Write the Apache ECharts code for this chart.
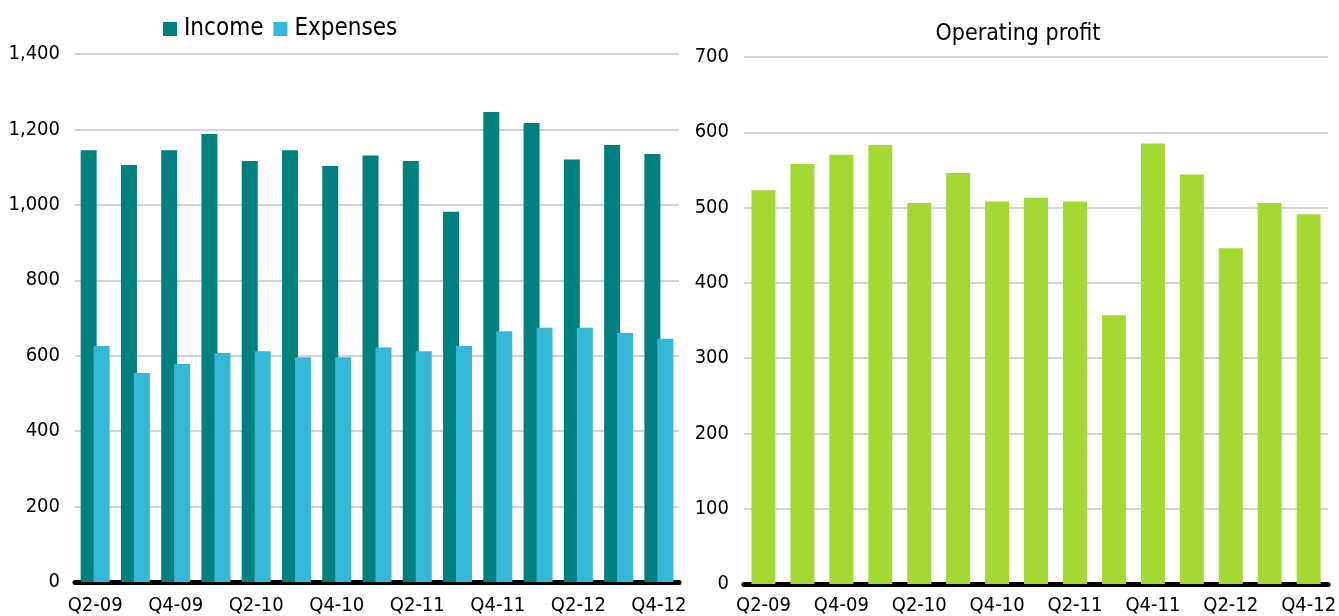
<!DOCTYPE html>
<html>
<head>
<meta charset="utf-8">
<script src="https://cdn.jsdelivr.net/npm/echarts@6/dist/echarts.min.js"></script>
<style>
  html, body { margin: 0; padding: 0; background: #ffffff; }
  #chart { width: 1339px; height: 616px; }
</style>
</head>
<body>
<div id="chart"></div>
<script>
// Quarterly figures, Q2-09 .. Q4-12
const quarters = ['Q2-09', 'Q3-09', 'Q4-09', 'Q1-10', 'Q2-10', 'Q3-10', 'Q4-10', 'Q1-11',
                  'Q2-11', 'Q3-11', 'Q4-11', 'Q1-12', 'Q2-12', 'Q3-12', 'Q4-12'];
const income = [1145, 1106, 1145, 1188, 1116, 1145, 1103, 1131, 1116, 982, 1246, 1217, 1120, 1159, 1135];
const expenses = [626, 554, 578, 607, 612, 596, 596, 622, 612, 626, 665, 674, 674, 660, 645];
const operatingProfit = [523, 558, 570, 583, 506, 546, 508, 513, 508, 357, 585, 544, 446, 506, 491];

const FONT = '"Liberation Sans Narrow", "DejaVu Sans Condensed", sans-serif';
const C_INCOME = '#00807F';
const C_EXPENSES = '#35B8D7';
const C_PROFIT = '#A5D833';

const chart = echarts.init(document.getElementById('chart'), null, { renderer: 'canvas' });

function xAxisFor(gridIndex, margin) {
  return {
    type: 'category',
    gridIndex: gridIndex,
    data: quarters,
    axisLine: { show: true, lineStyle: { color: '#000', width: 5, cap: 'round' } },
    axisTick: { show: false },
    axisLabel: { interval: 1, color: '#000', fontFamily: FONT, fontSize: 20, margin: margin }
  };
}

function yAxisFor(gridIndex, max, interval, fmt) {
  return {
    type: 'value',
    gridIndex: gridIndex,
    min: 0, max: max, interval: interval,
    axisLine: { show: false },
    axisTick: { show: false },
    splitLine: { show: true, lineStyle: { color: '#c4c4c4', width: 1.5 } },
    axisLabel: { color: '#000', fontFamily: FONT, fontSize: 20, margin: 15, formatter: fmt }
  };
}

chart.setOption({
  animation: false,
  backgroundColor: '#ffffff',
  title: {
    text: 'Operating profit',
    left: 1013, top: 18, textAlign: 'center',
    textStyle: { fontFamily: FONT, fontSize: 23, fontWeight: 'normal', color: '#000' }
  },
  legend: {
    left: 158, top: 12,
    icon: 'rect', itemWidth: 14, itemHeight: 14, itemGap: 10,
    textStyle: { fontFamily: FONT, fontSize: 24, color: '#000', padding: [0, 0, 0, 2] },
    data: ['Income', 'Expenses']
  },
  grid: [
    { left: 75, right: 660, top: 54, bottom: 34 },
    { left: 744, right: 7, top: 57, bottom: 31 }
  ],
  xAxis: [xAxisFor(0, 14), xAxisFor(1, 12)],
  yAxis: [
    yAxisFor(0, 1400, 200, v => v.toLocaleString('en-US')),
    yAxisFor(1, 700, 100, v => String(v))
  ],
  series: [
    {
      name: 'Income', type: 'bar', xAxisIndex: 0, yAxisIndex: 0,
      data: income, barWidth: 16, barGap: '-19%',
      itemStyle: { color: C_INCOME }
    },
    {
      name: 'Expenses', type: 'bar', xAxisIndex: 0, yAxisIndex: 0,
      data: expenses, barWidth: 16, barGap: '-19%',
      itemStyle: { color: C_EXPENSES }
    },
    {
      name: 'Operating profit', type: 'bar', xAxisIndex: 1, yAxisIndex: 1,
      data: operatingProfit, barWidth: 24,
      itemStyle: { color: C_PROFIT }
    }
  ]
});
</script>
</body>
</html>
